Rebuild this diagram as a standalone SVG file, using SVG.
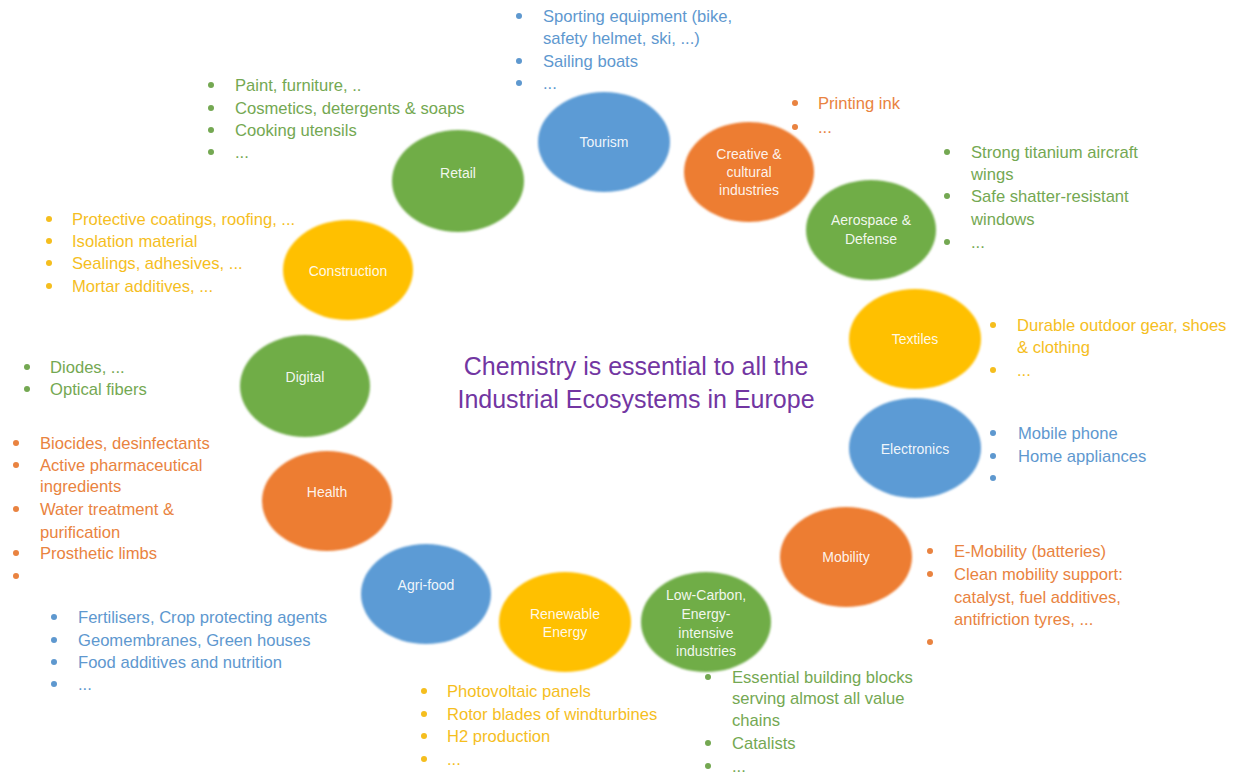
<svg xmlns="http://www.w3.org/2000/svg" width="1242" height="776" viewBox="0 0 1242 776">
<style>
  .bg { fill: #ffffff; }
  .eg { fill: #70AD47; }
  .eb { fill: #5B9BD5; }
  .eo { fill: #ED7D31; }
  .ey { fill: #FFC000; }
  .el { filter: url(#soft); }
  .lbl { font-family: "Liberation Sans", Arial, sans-serif; font-size: 14px; fill: #ffffff; fill-opacity: 0.92; text-anchor: middle; }
  .li { font-family: "Liberation Sans", Arial, sans-serif; font-size: 16.6px; }
  .tg { fill: #74A852; }
  .tb { fill: #5E98CF; }
  .to { fill: #E98340; }
  .ty { fill: #F5BE1E; }
  .title { font-family: "Liberation Sans", Arial, sans-serif; font-size: 25px; fill: #7236A2; text-anchor: middle; }
</style>
<defs>
  <filter id="soft" x="-10%" y="-10%" width="120%" height="120%">
    <feGaussianBlur stdDeviation="1.3"/>
  </filter>
</defs>
<rect class="bg" x="0" y="0" width="1242" height="776"/>
<g id="connectors"/>

<g id="title">
  <text class="title" x="636" y="375">Chemistry is essential to all the</text>
  <text class="title" x="636" y="408">Industrial Ecosystems in Europe</text>
</g>

<g id="tourism">
  <ellipse class="eb el" cx="604" cy="142" rx="66" ry="50"/>
  <text class="lbl" x="604" y="147">Tourism</text>
  <g class="li tb">
    <circle cx="519" cy="16" r="3"/><text x="543" y="22">Sporting equipment (bike,</text>
    <text x="543" y="44">safety helmet, ski, ...)</text>
    <circle cx="519" cy="61" r="3"/><text x="543" y="67">Sailing boats</text>
    <circle cx="519" cy="83" r="3"/><text x="543" y="89">...</text>
  </g>
</g>

<g id="creative">
  <ellipse class="eo el" cx="749" cy="172" rx="65" ry="50"/>
  <text class="lbl" x="749" y="159">Creative &amp;</text>
  <text class="lbl" x="749" y="177">cultural</text>
  <text class="lbl" x="749" y="195">industries</text>
  <g class="li to">
    <circle cx="795" cy="103" r="3"/><text x="818" y="109">Printing ink</text>
    <circle cx="795" cy="127" r="3"/><text x="818" y="133">...</text>
  </g>
</g>

<g id="aerospace">
  <ellipse class="eg el" cx="871" cy="230" rx="65" ry="50"/>
  <text class="lbl" x="871" y="225">Aerospace &amp;</text>
  <text class="lbl" x="871" y="244">Defense</text>
  <g class="li tg">
    <circle cx="947" cy="152" r="3"/><text x="971" y="158">Strong titanium aircraft</text>
    <text x="971" y="180">wings</text>
    <circle cx="947" cy="196" r="3"/><text x="971" y="202">Safe shatter-resistant</text>
    <text x="971" y="225">windows</text>
    <circle cx="947" cy="242" r="3"/><text x="971" y="248">...</text>
  </g>
</g>

<g id="textiles">
  <ellipse class="ey el" cx="915" cy="339" rx="66" ry="50"/>
  <text class="lbl" x="915" y="344">Textiles</text>
  <g class="li ty">
    <circle cx="993" cy="325" r="3"/><text x="1017" y="331">Durable outdoor gear, shoes</text>
    <text x="1017" y="353">&amp; clothing</text>
    <circle cx="993" cy="370" r="3"/><text x="1017" y="376">...</text>
  </g>
</g>

<g id="electronics">
  <ellipse class="eb el" cx="915" cy="448" rx="66" ry="50"/>
  <text class="lbl" x="915" y="454">Electronics</text>
  <g class="li tb">
    <circle cx="993" cy="433" r="3"/><text x="1018" y="439">Mobile phone</text>
    <circle cx="993" cy="456" r="3"/><text x="1018" y="462">Home appliances</text>
    <circle cx="993" cy="478" r="3"/>
  </g>
</g>

<g id="mobility">
  <ellipse class="eo el" cx="846" cy="557" rx="66" ry="50"/>
  <text class="lbl" x="846" y="562">Mobility</text>
  <g class="li to">
    <circle cx="930" cy="551" r="3"/><text x="954" y="557">E-Mobility (batteries)</text>
    <circle cx="930" cy="574" r="3"/><text x="954" y="580">Clean mobility support:</text>
    <text x="954" y="603">catalyst, fuel additives,</text>
    <text x="954" y="625">antifriction tyres, ...</text>
    <circle cx="930" cy="642" r="3"/>
  </g>
</g>

<g id="low-carbon">
  <ellipse class="eg el" cx="706" cy="622" rx="65" ry="50"/>
  <text class="lbl" x="706" y="600">Low-Carbon,</text>
  <text class="lbl" x="706" y="619">Energy-</text>
  <text class="lbl" x="706" y="638">intensive</text>
  <text class="lbl" x="706" y="656">industries</text>
  <g class="li tg">
    <circle cx="708" cy="677" r="3"/><text x="732" y="683">Essential building blocks</text>
    <text x="732" y="704">serving almost all value</text>
    <text x="732" y="726">chains</text>
    <circle cx="708" cy="743" r="3"/><text x="732" y="749">Catalists</text>
    <circle cx="708" cy="766" r="3"/><text x="732" y="772">...</text>
  </g>
</g>

<g id="renewable">
  <ellipse class="ey el" cx="565" cy="622" rx="66" ry="50"/>
  <text class="lbl" x="565" y="619">Renewable</text>
  <text class="lbl" x="565" y="637">Energy</text>
  <g class="li ty">
    <circle cx="424" cy="691" r="3"/><text x="447" y="697">Photovoltaic panels</text>
    <circle cx="424" cy="714" r="3"/><text x="447" y="720">Rotor blades of windturbines</text>
    <circle cx="424" cy="736" r="3"/><text x="447" y="742">H2 production</text>
    <circle cx="424" cy="759" r="3"/><text x="447" y="765">...</text>
  </g>
</g>

<g id="agri-food">
  <ellipse class="eb el" cx="426" cy="594" rx="65" ry="50"/>
  <text class="lbl" x="426" y="590">Agri-food</text>
  <g class="li tb">
    <circle cx="54" cy="617" r="3"/><text x="78" y="623">Fertilisers, Crop protecting agents</text>
    <circle cx="54" cy="640" r="3"/><text x="78" y="646">Geomembranes, Green houses</text>
    <circle cx="54" cy="662" r="3"/><text x="78" y="668">Food additives and nutrition</text>
    <circle cx="54" cy="684" r="3"/><text x="78" y="690">...</text>
  </g>
</g>

<g id="health">
  <ellipse class="eo el" cx="327" cy="501" rx="65" ry="50"/>
  <text class="lbl" x="327" y="497">Health</text>
  <g class="li to">
    <circle cx="16" cy="443" r="3"/><text x="40" y="449">Biocides, desinfectants</text>
    <circle cx="16" cy="465" r="3"/><text x="40" y="471">Active pharmaceutical</text>
    <text x="40" y="492">ingredients</text>
    <circle cx="16" cy="509" r="3"/><text x="40" y="515">Water treatment &amp;</text>
    <text x="40" y="538">purification</text>
    <circle cx="16" cy="553" r="3"/><text x="40" y="559">Prosthetic limbs</text>
    <circle cx="16" cy="576" r="3"/>
  </g>
</g>

<g id="digital">
  <ellipse class="eg el" cx="305" cy="386" rx="65" ry="51"/>
  <text class="lbl" x="305" y="382">Digital</text>
  <g class="li tg">
    <circle cx="27" cy="367" r="3"/><text x="50" y="373">Diodes, ...</text>
    <circle cx="27" cy="389" r="3"/><text x="50" y="395">Optical fibers</text>
  </g>
</g>

<g id="construction">
  <ellipse class="ey el" cx="348" cy="270" rx="65" ry="50"/>
  <text class="lbl" x="348" y="276">Construction</text>
  <g class="li ty">
    <circle cx="49" cy="219" r="3"/><text x="72" y="225">Protective coatings, roofing, ...</text>
    <circle cx="49" cy="241" r="3"/><text x="72" y="247">Isolation material</text>
    <circle cx="49" cy="263" r="3"/><text x="72" y="269">Sealings, adhesives, ...</text>
    <circle cx="49" cy="286" r="3"/><text x="72" y="292">Mortar additives, ...</text>
  </g>
</g>

<g id="retail">
  <ellipse class="eg el" cx="458" cy="181" rx="66" ry="51"/>
  <text class="lbl" x="458" y="178">Retail</text>
  <g class="li tg">
    <circle cx="211" cy="85" r="3"/><text x="235" y="91">Paint, furniture, ..</text>
    <circle cx="211" cy="108" r="3"/><text x="235" y="114">Cosmetics, detergents &amp; soaps</text>
    <circle cx="211" cy="130" r="3"/><text x="235" y="136">Cooking utensils</text>
    <circle cx="211" cy="152" r="3"/><text x="235" y="158">...</text>
  </g>
</g>
</svg>
